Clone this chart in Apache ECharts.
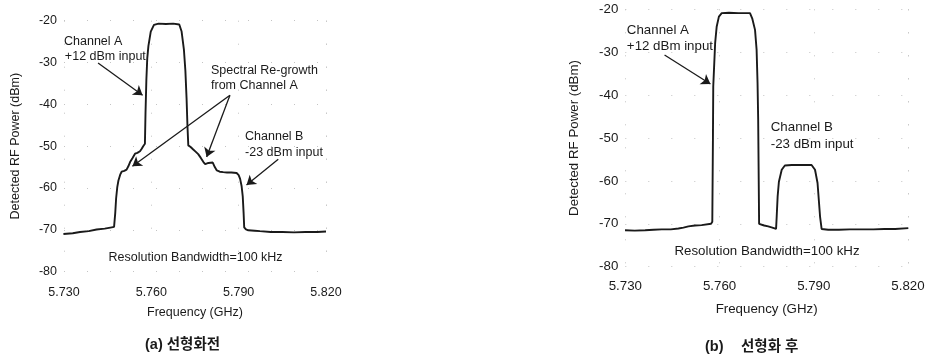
<!DOCTYPE html>
<html>
<head>
<meta charset="utf-8">
<script src="https://cdn.jsdelivr.net/npm/echarts@6/dist/echarts.min.js"></script>
<style>
  html, body { margin: 0; padding: 0; background: #fff; }
  #chart { width: 928px; height: 356px; }
</style>
</head>
<body>
<div id="chart"></div>
<script>
// ---- Data ----
// Panel (a): before linearization
const freqA = [5.7298, 5.7330, 5.7355, 5.7385, 5.7412, 5.7440, 5.7464, 5.7472, 5.7476, 5.7479, 5.7483, 5.7487,
  5.7493, 5.7498, 5.7507, 5.7515, 5.7521, 5.7527, 5.7535, 5.7544, 5.7552, 5.7561, 5.7567, 5.7572, 5.7578,
  5.7580, 5.7583, 5.7586, 5.7590, 5.7598, 5.7609, 5.7625, 5.7650, 5.7675, 5.7696,
  5.7704, 5.7712, 5.7717, 5.7721, 5.7724, 5.7727, 5.7735, 5.7744, 5.7752, 5.7761, 5.7770, 5.7779, 5.7785,
  5.7790, 5.7796, 5.7802, 5.7811, 5.7818, 5.7825, 5.7835, 5.7847, 5.7860, 5.7875, 5.7893, 5.7900,
  5.7905, 5.7910, 5.7914, 5.7917, 5.7919, 5.7925, 5.7933, 5.7955, 5.7973, 5.8010, 5.8050, 5.8090, 5.8130, 5.8170, 5.8200];
const powerA = [-71.0, -70.8, -70.5, -70.3, -69.9, -69.7, -69.4, -69.3, -66.0, -62.5, -59.8, -58.2,
  -56.8, -56.1, -55.9, -55.6, -54.8, -53.8, -52.9, -51.8, -51.6, -51.2, -50.6, -50.0, -49.4,
  -42.0, -34.0, -29.0, -26.0, -22.6, -21.0, -20.7, -20.8, -20.7, -20.9,
  -22.6, -27.0, -32.0, -38.5, -45.0, -49.8, -50.2, -50.8, -51.3, -51.9, -52.8, -53.8, -54.3,
  -54.5, -54.0, -53.7, -53.9, -55.0, -55.8, -56.1, -56.2, -56.3, -56.3, -56.4, -56.9,
  -57.8, -59.5, -62.0, -66.0, -69.4, -69.9, -70.1, -70.2, -70.3, -70.5, -70.5, -70.6, -70.5, -70.5, -70.4];

// Panel (b): after linearization
const freqB = [5.7299, 5.7330, 5.7363, 5.7390, 5.7416, 5.7445, 5.7469, 5.7485, 5.7501, 5.7522, 5.7543, 5.7573,
  5.7577, 5.7579, 5.7580, 5.7586, 5.7591, 5.7598, 5.7607, 5.7630, 5.7660, 5.7697,
  5.7704, 5.7713, 5.7718, 5.7721, 5.7723, 5.7726, 5.7729, 5.7742, 5.7755, 5.7768, 5.7780,
  5.7782, 5.7785, 5.7789, 5.7798, 5.7808, 5.7830, 5.7860, 5.7893, 5.7904, 5.7912, 5.7920, 5.7925,
  5.7946, 5.7980, 5.8015, 5.8053, 5.8090, 5.8125, 5.8159, 5.8201];
const powerB = [-71.5, -71.6, -71.5, -71.4, -71.3, -71.3, -71.1, -70.9, -70.6, -70.4, -70.3, -70.0,
  -69.5, -50.0, -38.0, -27.9, -24.0, -21.7, -20.9, -20.8, -20.9, -20.9,
  -22.1, -24.8, -29.4, -37.1, -45.6, -70.0, -70.2, -70.4, -70.6, -70.9, -71.2,
  -68.3, -63.6, -60.2, -57.4, -56.4, -56.3, -56.3, -56.3, -57.4, -60.5, -68.3, -71.2,
  -71.4, -71.4, -71.3, -71.3, -71.3, -71.2, -71.2, -71.0];

// Axis ticks
const xTicks = [5.730, 5.760, 5.790, 5.820];
const yTicks = [-80, -70, -60, -50, -40, -30, -20];

// ---- Chart ----
const FONT = '"Liberation Sans", Arial, sans-serif';
const INK = '#1a1a1a';
const GRID_DOT = { color: '#c4c4c4', width: 1, type: [1, 22] };
const chart = echarts.init(document.getElementById('chart'), null, { renderer: 'canvas' });

function xAxisDef(gridIndex, fs, margin, nameGap) {
  return {
    gridIndex, type: 'value',
    min: xTicks[0], max: xTicks[xTicks.length - 1], interval: xTicks[1] - xTicks[0],
    axisLine: { show: false }, axisTick: { show: false },
    splitLine: { show: true, lineStyle: GRID_DOT },
    axisLabel: { formatter: v => v.toFixed(3), margin, fontSize: fs, color: INK, fontFamily: FONT },
    name: 'Frequency (GHz)', nameLocation: 'middle', nameGap,
    nameTextStyle: { fontSize: fs, color: INK, fontFamily: FONT }
  };
}
function yAxisDef(gridIndex, fs, nameGap) {
  return {
    gridIndex, type: 'value',
    min: yTicks[0], max: yTicks[yTicks.length - 1], interval: yTicks[1] - yTicks[0],
    axisLine: { show: false }, axisTick: { show: false },
    splitLine: { show: true, lineStyle: GRID_DOT },
    axisLabel: { margin: 7, fontSize: fs, color: INK, fontFamily: FONT },
    name: 'Detected RF Power (dBm)', nameLocation: 'middle', nameGap,
    nameTextStyle: { fontSize: fs, color: INK, fontFamily: FONT }
  };
}
function arrows(list) {
  return {
    silent: true, animation: false,
    symbol: ['none', 'arrow'], symbolSize: 9,
    label: { show: false },
    lineStyle: { color: INK, width: 1.3, type: 'solid' },
    itemStyle: { color: INK },
    emphasis: { disabled: true },
    data: list.map(a => [{ coord: a[0] }, { coord: a[1] }])
  };
}

chart.setOption({
  animation: false,
  grid: [
    { left: 64, top: 20.7, width: 262, height: 251 },
    { left: 625.3, top: 9.3, width: 282.7, height: 257.4 }
  ],
  xAxis: [xAxisDef(0, 12.5, 14, 34), xAxisDef(1, 13.3, 13, 36)],
  yAxis: [yAxisDef(0, 12.5, 42), yAxisDef(1, 13.3, 44)],
  series: [
    {
      type: 'line', xAxisIndex: 0, yAxisIndex: 0, showSymbol: false, symbol: 'none',
      lineStyle: { color: INK, width: 1.9 },
      data: freqA.map((f, i) => [f, powerA[i]]),
      markLine: arrows([
        [[5.7417, -30.1], [5.7570, -37.8]],
        [[5.7870, -37.8], [5.7535, -54.8]],
        [[5.7870, -37.8], [5.7790, -52.6]],
        [[5.8036, -53.1], [5.7927, -59.3]]
      ])
    },
    {
      type: 'line', xAxisIndex: 1, yAxisIndex: 1, showSymbol: false, symbol: 'none',
      lineStyle: { color: INK, width: 1.9 },
      data: freqB.map((f, i) => [f, powerB[i]]),
      markLine: arrows([
        [[5.7425, -30.65], [5.7571, -37.4]]
      ])
    }
  ]
});

// Annotation texts anchored in data space
const notes = [
  { g: 0, at: [5.7300, -24.9], text: 'Channel A', fs: 12.5 },
  { g: 0, at: [5.7303, -28.5], text: '+12 dBm input', fs: 12.5 },
  { g: 0, at: [5.7805, -32.0], text: 'Spectral Re-growth', fs: 12.5 },
  { g: 0, at: [5.7805, -35.6], text: 'from Channel A', fs: 12.5 },
  { g: 0, at: [5.7922, -47.8], text: 'Channel B', fs: 12.5 },
  { g: 0, at: [5.7922, -51.4], text: '-23 dBm input', fs: 12.5 },
  { g: 0, at: [5.7752, -76.5], text: 'Resolution Bandwidth=100 kHz', fs: 12.5, center: true },
  { g: 1, at: [5.7305, -25.0], text: 'Channel A', fs: 13.3 },
  { g: 1, at: [5.7305, -28.6], text: '+12 dBm input', fs: 13.3 },
  { g: 1, at: [5.7763, -47.6], text: 'Channel B', fs: 13.3 },
  { g: 1, at: [5.7763, -51.5], text: '-23 dBm input', fs: 13.3 },
  { g: 1, at: [5.7751, -76.5], text: 'Resolution Bandwidth=100 kHz', fs: 13.3, center: true }
];
const graphics = notes.map(n => {
  const p = chart.convertToPixel({ gridIndex: n.g }, n.at);
  const al = n.center ? 'center' : 'left';
  return {
    type: 'text', x: p[0], y: p[1], silent: true,
    style: {
      text: n.text, fill: INK, font: n.fs + 'px ' + FONT,
      align: al, verticalAlign: 'middle', textAlign: al, textVerticalAlign: 'middle'
    }
  };
});
const capFont = 'bold 14.5px "Liberation Sans", "Noto Sans CJK KR", sans-serif';
[
  { x: 145, y: 345, text: '(a) 선형화전' },
  { x: 705, y: 347, text: '(b)' },
  { x: 741, y: 347, text: '선형화 후' }
].forEach(c => graphics.push({
  type: 'text', x: c.x, y: c.y, silent: true,
  style: { text: c.text, fill: INK, font: capFont, align: 'left', verticalAlign: 'middle', textAlign: 'left', textVerticalAlign: 'middle' }
}));
chart.setOption({ graphic: graphics });
</script>
</body>
</html>
